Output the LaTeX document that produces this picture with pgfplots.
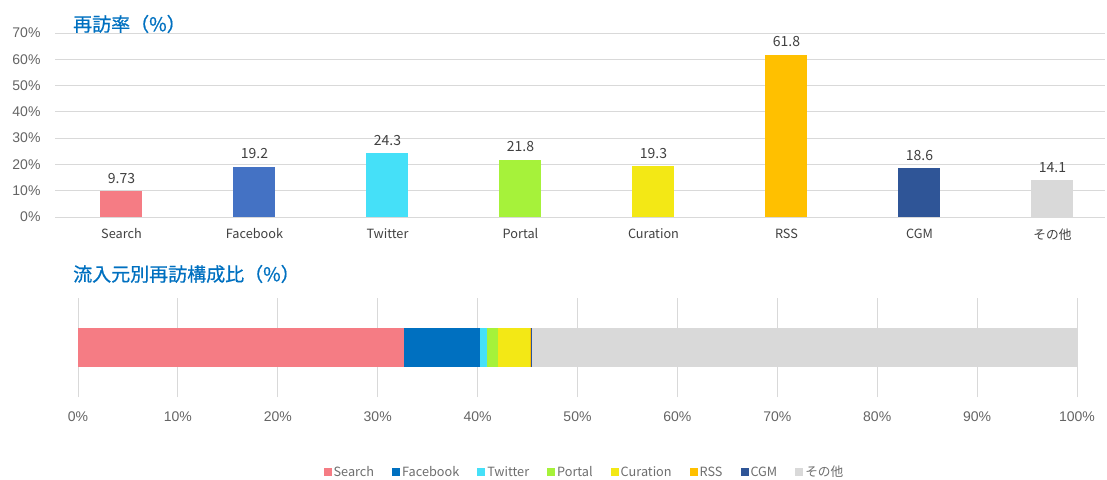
\documentclass[border=0pt]{standalone}
\usepackage{fontspec}
\setmainfont{Liberation Sans}
\newfontfamily\cjk{Noto Sans CJK JP}
\newfontfamily\cjktitle[FakeBold=0.7]{Noto Sans CJK JP}
\usepackage{pgfplots}
\pgfplotsset{compat=1.18}
\definecolor{cSearch}{RGB}{245,124,132}
\definecolor{cFacebook}{RGB}{68,114,196}
\definecolor{cFacebookB}{RGB}{0,112,192}
\definecolor{cTwitter}{RGB}{69,224,248}
\definecolor{cPortal}{RGB}{166,242,58}
\definecolor{cCuration}{RGB}{243,232,21}
\definecolor{cRSS}{RGB}{255,192,0}
\definecolor{cCGM}{RGB}{47,85,151}
\definecolor{cOther}{RGB}{217,217,217}
\definecolor{gridgray}{RGB}{217,217,217}
\definecolor{ticktext}{RGB}{100,100,100}
\definecolor{labeltext}{RGB}{64,64,64}
\definecolor{legendtext}{RGB}{110,110,110}
\definecolor{titleblue}{RGB}{0,112,192}

\begin{document}
\begin{tikzpicture}
\useasboundingbox (0pt,0pt) rectangle (1107pt,479pt);

%% top: revisit rate per source
\begin{axis}[
    at={(55pt,262pt)}, anchor=south west, scale only axis,
    width=1050pt, height=184pt,
    xmin=-0.5, xmax=7.395, ymin=0, ymax=70,
    ytick={0,10,...,70},
    yticklabel={\pgfmathprintnumber{\tick}\%},
    xtick={0,...,7},
    xticklabels={Search,Facebook,Twitter,Portal,Curation,RSS,CGM,その他},
    ymajorgrids, grid style={draw=gridgray, line width=0.9pt},
    axis line style={draw=none}, major tick length=0pt,
    /pgf/number format/assume math mode=true,
    yticklabel style={font=\fontsize{14}{14}\selectfont, text=ticktext, xshift=-11pt},
    xticklabel style={font=\cjk\fontsize{12.7}{13}\selectfont, text=labeltext, yshift=-8pt},
    ybar, bar width=42pt, bar shift=0pt,
    nodes near coords,
    every node near coord/.append style={font=\cjk\fontsize{14}{14}\selectfont, text=labeltext, yshift=4pt},
    clip=false,
  ]
  \addplot[fill=cSearch, draw=none]   coordinates {(0,9.73)};
  \addplot[fill=cFacebook, draw=none] coordinates {(1,19.2)};
  \addplot[fill=cTwitter, draw=none]  coordinates {(2,24.3)};
  \addplot[fill=cPortal, draw=none]   coordinates {(3,21.8)};
  \addplot[fill=cCuration, draw=none] coordinates {(4,19.3)};
  \addplot[fill=cRSS, draw=none]      coordinates {(5,61.8)};
  \addplot[fill=cCGM, draw=none]      coordinates {(6,18.6)};
  \addplot[fill=cOther, draw=none]    coordinates {(7,14.1)};
\end{axis}

%% bottom: share of revisits by source
\begin{axis}[
    at={(78pt,82pt)}, anchor=south west, scale only axis,
    width=999pt, height=99pt,
    xmin=0, xmax=100, ymin=-1, ymax=1,
    ytick=\empty,
    xtick={0,10,...,100},
    xticklabel={\pgfmathprintnumber{\tick}\%},
    xmajorgrids, grid style={draw=gridgray, line width=0.9pt},
    axis line style={draw=none}, major tick length=0pt,
    /pgf/number format/assume math mode=true,
    xticklabel style={font=\fontsize{14}{14}\selectfont, text=ticktext, yshift=-11pt},
    xbar stacked, bar width=39pt,
    legend columns=8,
    legend image code/.code={\fill[#1] (0pt,-4pt) rectangle (8pt,4pt);},
    legend style={at={(0.507,-0.758)}, anchor=center, draw=none,
      font=\cjk\fontsize{12.7}{13}\selectfont, text=legendtext,
      /tikz/every even column/.append style={column sep=16pt}},
    clip=false,
  ]
  \addplot[fill=cSearch, draw=none]    coordinates {(32.6,0)};
  \addplot[fill=cFacebookB, draw=none] coordinates {(7.6,0)};
  \addplot[fill=cTwitter, draw=none]   coordinates {(0.75,0)};
  \addplot[fill=cPortal, draw=none]    coordinates {(1.05,0)};
  \addplot[fill=cCuration, draw=none]  coordinates {(3.2,0)};
  \addplot[fill=cRSS, draw=none]       coordinates {(0.1,0)};
  \addplot[fill=cCGM, draw=none]       coordinates {(0.1,0)};
  \addplot[fill=cOther, draw=none]     coordinates {(54.6,0)};
  \legend{Search,Facebook,Twitter,Portal,Curation,RSS,CGM,その他}
\end{axis}

\node[anchor=west, text=titleblue, font=\cjktitle\fontsize{19}{19}\selectfont, inner sep=0pt]
  at (73pt,455pt) {再訪率（\%）};
\node[anchor=west, text=titleblue, font=\cjktitle\fontsize{19}{19}\selectfont, inner sep=0pt]
  at (73pt,205pt) {流入元別再訪構成比（\%）};
\end{tikzpicture}
\end{document}
